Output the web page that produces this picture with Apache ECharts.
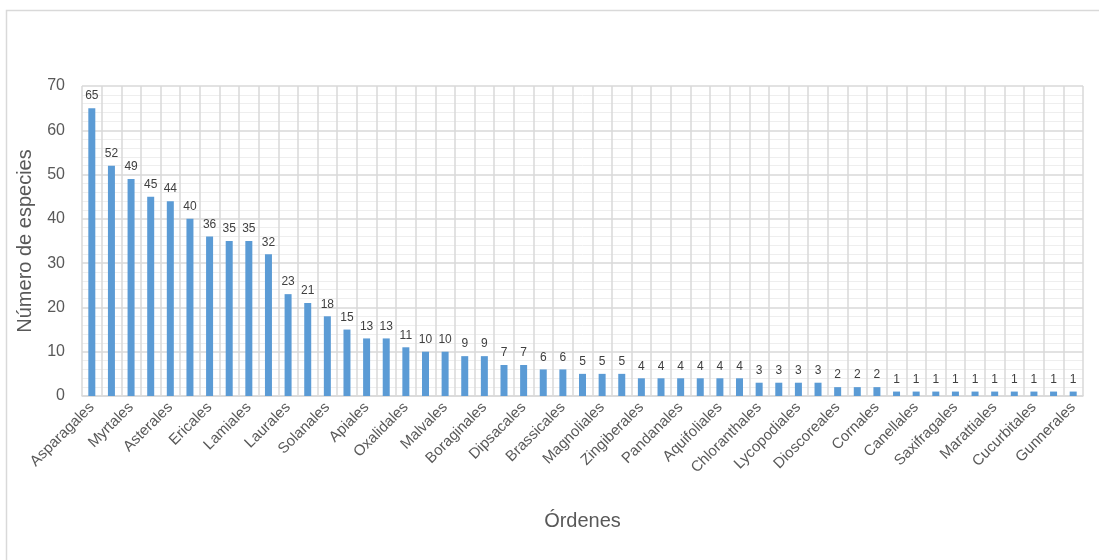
<!DOCTYPE html>
<html>
<head>
<meta charset="utf-8">
<script src="https://cdn.jsdelivr.net/npm/echarts@6/dist/echarts.min.js"></script>
<style>
  html, body { margin: 0; padding: 0; background: #ffffff; }
  #chart { width: 1099px; height: 560px; }
</style>
</head>
<body>
<div id="chart"></div>
<script>
// Orders of vascular plants and number of species recorded in each
const ordenes = [
  'Asparagales', 'Poales', 'Myrtales', 'Fabales', 'Asterales', 'Gentianales',
  'Ericales', 'Rosales', 'Lamiales', 'Malpighiales', 'Laurales', 'Sapindales',
  'Solanales', 'Piperales', 'Apiales', 'Commelinales', 'Oxalidales', 'Caryophyllales',
  'Malvales', 'Ranunculales', 'Boraginales', 'Polypodiales', 'Dipsacales', 'Alismatales',
  'Brassicales', 'Liliales', 'Magnoliales', 'Santalales', 'Zingiberales', 'Celastrales',
  'Pandanales', 'Arecales', 'Aquifoliales', 'Cyatheales', 'Chloranthales', 'Fagales',
  'Lycopodiales', 'Garryales', 'Dioscoreales', 'Geraniales', 'Cornales', 'Vitales',
  'Canellales', 'Proteales', 'Saxifragales', 'Ophioglossales', 'Marattiales', 'Gleicheniales',
  'Cucurbitales', 'Escalloniales', 'Gunnerales'
];
const especies = [
  65, 52, 49, 45, 44, 40, 36, 35, 35, 32,
  23, 21, 18, 15, 13, 13, 11, 10, 10, 9,
  9, 7, 7, 6, 6, 5, 5, 5, 4, 4,
  4, 4, 4, 4, 3, 3, 3, 3, 2, 2,
  2, 1, 1, 1, 1, 1, 1, 1, 1, 1,
  1
];
const yTicks = [0, 10, 20, 30, 40, 50, 60, 70];

const chart = echarts.init(document.getElementById('chart'), null, { renderer: 'canvas' });
const font = 'Liberation Sans, Arial, sans-serif';

chart.setOption({
  animation: false,
  backgroundColor: '#ffffff',
  graphic: [{
    type: 'rect',
    left: 4, top: 8,
    shape: { width: 1200, height: 700 },
    style: { fill: 'none', stroke: '#d9d9d9', lineWidth: 1.5 },
    silent: true
  }],
  grid: { left: 82, right: 16, top: 86, bottom: 164, containLabel: false },
  xAxis: {
    type: 'category',
    data: ordenes,
    boundaryGap: true,
    name: 'Órdenes',
    nameLocation: 'middle',
    nameGap: 115,
    nameTextStyle: { fontFamily: font, fontSize: 20, color: '#595959' },
    axisLine: { show: true, lineStyle: { color: '#d9d9d9', width: 1.5 } },
    axisTick: { show: false },
    axisLabel: {
      interval: 1,
      rotate: 45,
      fontFamily: font,
      fontSize: 15,
      color: '#595959',
      margin: 9
    },
    splitLine: { show: true, interval: 0, lineStyle: { color: '#d9d9d9', width: 1.5 } }
  },
  yAxis: {
    type: 'value',
    min: yTicks[0],
    max: yTicks[yTicks.length - 1],
    interval: 10,
    name: 'Número de especies',
    nameLocation: 'middle',
    nameRotate: 90,
    nameGap: 47,
    nameTextStyle: { fontFamily: font, fontSize: 20, color: '#595959' },
    axisLine: { show: false },
    axisTick: { show: false },
    axisLabel: { fontFamily: font, fontSize: 16, color: '#595959', margin: 17 },
    splitLine: { show: true, lineStyle: { color: '#d9d9d9', width: 1.5 } },
    minorTick: { show: false, splitNumber: 5 },
    minorSplitLine: { show: true, lineStyle: { color: '#eeeeee', width: 1 } }
  },
  series: [{
    type: 'bar',
    data: especies,
    barWidth: 7,
    itemStyle: { color: '#5b9bd5' },
    label: {
      show: true,
      position: 'top',
      distance: 6,
      fontFamily: font,
      fontSize: 12,
      color: '#404040'
    }
  }]
});
</script>
</body>
</html>
